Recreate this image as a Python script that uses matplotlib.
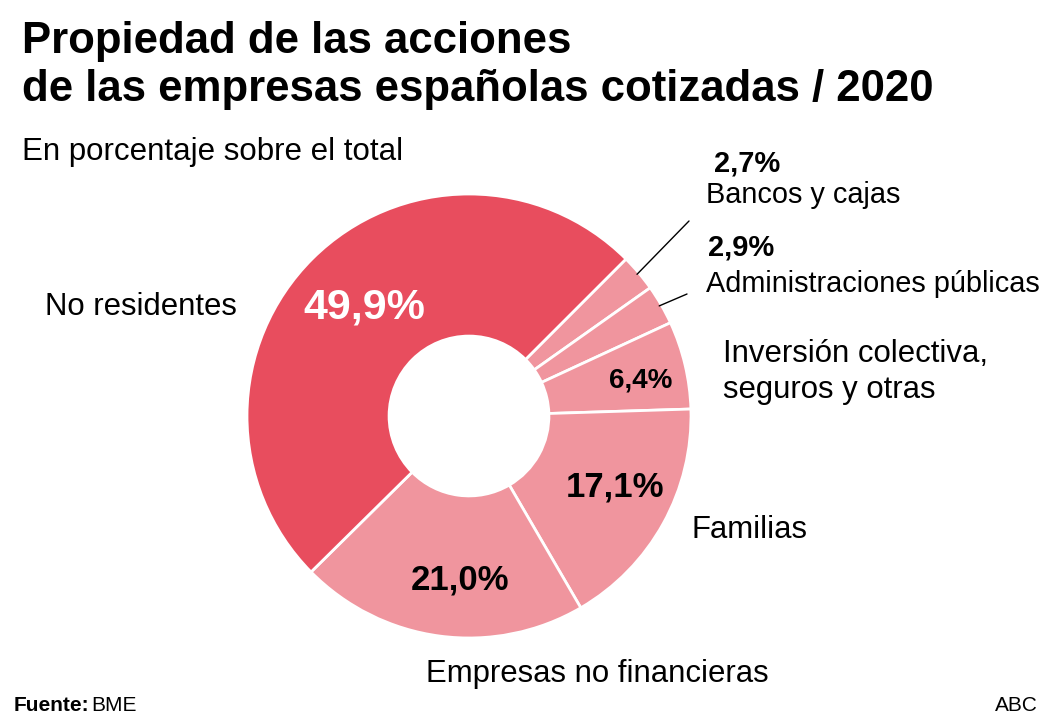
import numpy as np
import matplotlib.pyplot as plt

# datos (BME, 2020)
categorias = ['Bancos y cajas', 'Administraciones públicas',
              'Inversión colectiva,\nseguros y otras', 'Familias',
              'Empresas no financieras', 'No residentes']
valores = [2.7, 2.9, 6.4, 17.1, 21.0, 49.9]
etiquetas = ['2,7%', '2,9%', '6,4%', '17,1%', '21,0%', '49,9%']

rojo = '#E84D5E'
rosa = '#F0959E'
colores = [rosa, rosa, rosa, rosa, rosa, rojo]

plt.rcParams['font.family'] = ['Liberation Sans', 'DejaVu Sans']

W, H = 1063, 728
fig = plt.figure(figsize=(W / 100, H / 100), dpi=100)
fig.patch.set_facecolor('white')


def fx(px):
    return px / W


def fy(py):
    return 1 - py / H


# ejes con el donut: borde exterior de 247 a 691 px, 194 a 638 px
ax = fig.add_axes([fx(247), fy(638), 444 / W, 444 / H])
wedges, _ = ax.pie(valores, colors=colores, startangle=45, counterclock=False,
                   radius=1, wedgeprops=dict(width=0.64, edgecolor='white', linewidth=2))
ax.set_xlim(-1, 1)
ax.set_ylim(-1, 1)
ax.set_aspect('equal')
ax.axis('off')

# porcentajes dentro de las porciones: (radio, giro en grados, tamaño, color)
dentro = {2: (0.79, -1.8, 20, 'black'), 3: (0.73, 3, 25, 'black'),
          4: (0.74, 4.5, 25, 'black'), 5: (0.68, -0.9, 31, 'white')}
for i, (r, giro, tam, col) in dentro.items():
    w = wedges[i]
    ang = np.deg2rad((w.theta1 + w.theta2) / 2 + giro)
    ax.text(r * np.cos(ang), r * np.sin(ang), etiquetas[i], ha='center', va='center',
            fontsize=tam, fontweight='bold', color=col)

# lineas guia para las porciones pequeñas
fin = {0: (689, 221), 1: (687, 294)}
for i, (ex, ey) in fin.items():
    w = wedges[i]
    ang = np.deg2rad((w.theta1 + w.theta2) / 2)
    ax.annotate('', xy=(0.99 * np.cos(ang), 0.99 * np.sin(ang)), xycoords='data',
                xytext=(fx(ex), fy(ey)), textcoords='figure fraction',
                arrowprops=dict(arrowstyle='-', color='black', lw=1,
                                shrinkA=0, shrinkB=0))

# titulo y subtitulo
fig.text(fx(22), fy(53), 'Propiedad de las acciones', fontsize=31.5, fontweight='bold',
         va='baseline')
fig.text(fx(22), fy(101), 'de las empresas españolas cotizadas / 2020', fontsize=31.5,
         fontweight='bold', va='baseline')
fig.text(fx(22), fy(160), 'En porcentaje sobre el total', fontsize=22.5, va='baseline')

# rotulos de categorias
fig.text(fx(714), fy(172), etiquetas[0], fontsize=21, fontweight='bold', va='baseline')
fig.text(fx(706), fy(203), categorias[0], fontsize=20.8, va='baseline')
fig.text(fx(708), fy(255), etiquetas[1], fontsize=21, fontweight='bold', va='baseline')
fig.text(fx(706), fy(292), categorias[1], fontsize=20.8, va='baseline')
fig.text(fx(723), fy(362), 'Inversión colectiva,', fontsize=22.4, va='baseline')
fig.text(fx(723), fy(398), 'seguros y otras', fontsize=22.4, va='baseline')
fig.text(fx(691), fy(538), categorias[3], fontsize=22.4, va='baseline')
fig.text(fx(426), fy(682), categorias[4], fontsize=22.4, va='baseline')
fig.text(fx(45), fy(315), categorias[5], fontsize=22.4, va='baseline')

# pie de grafico
fuente = ['Liberation Sans Narrow', 'Liberation Sans']
fig.text(fx(14), fy(711), 'Fuente:', fontsize=15, fontweight='bold', va='baseline',
         family=fuente)
fig.text(fx(91), fy(711), 'BME', fontsize=15, va='baseline', family=fuente)
fig.text(fx(1038), fy(711), 'ABC', fontsize=15, va='baseline', ha='right', family=fuente)

fig.savefig('out.png', dpi=100, facecolor='white')
